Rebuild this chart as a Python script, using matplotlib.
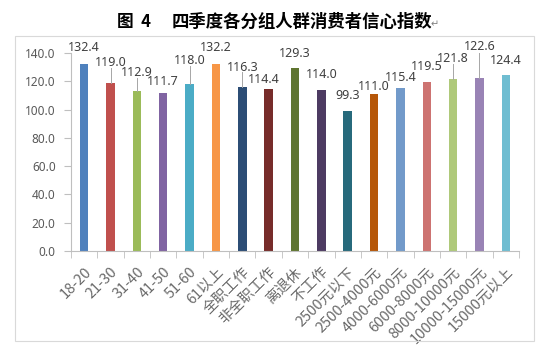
import matplotlib.pyplot as plt
import matplotlib.patches as patches
import numpy as np

plt.rcParams['font.family'] = ['Noto Sans CJK SC', 'DejaVu Sans']

groups = ['18-20', '21-30', '31-40', '41-50', '51-60', '61以上', '全职工作', '非全职工作',
          '离退休', '不工作', '2500元以下', '2500-4000元', '4000-6000元', '6000-8000元',
          '8000-10000元', '10000-15000元', '15000元以上']
index = [132.4, 119.0, 112.9, 111.7, 118.0, 132.2, 116.3, 114.4,
         129.3, 114.0, 99.3, 111.0, 115.4, 119.5, 121.8, 122.6, 124.4]

# where the data labels were dragged to (data units), excel style
label_y = [143.6, 133.0, 125.9, 119.5, 134.4, 143.6, 130.1, 121.6,
           140.0, 124.5, 110.3, 116.0, 123.0, 130.8, 135.8, 144.3, 134.4]
label_dx = [0, 0, 0, 0, 0, 0, 0, -0.2, 0, 0, 0, 0, 0, 0, 0, 0, 0]

colors = ['#4F81BD', '#C0504D', '#9BBB59', '#8064A2', '#4BACC6', '#F79646',
          '#2C4D75', '#772C2A', '#5F7530', '#4D3B62', '#276A7C', '#B65708',
          '#729ACA', '#CD7371', '#AFC97A', '#9983B5', '#6FBDD1']

fig = plt.figure(figsize=(5.41, 3.5), dpi=100)
ax = fig.add_axes([71/541, 1 - 251/350, 448/541, 198/350])

x = np.arange(len(groups))
ax.bar(x, index, width=0.32, color=colors)

for i in range(len(index)):
    tx = x[i] + label_dx[i]
    ax.text(tx, label_y[i], '%.1f' % index[i], ha='center', va='center',
            fontsize=9, color='#404040', family=['Noto Sans', 'DejaVu Sans'])
    if label_y[i] - index[i] > 12:
        ax.plot([x[i], x[i]], [label_y[i] - 3.6, index[i]], color='#A6A6A6', lw=0.7)

ax.set_xlim(-0.5, len(groups) - 0.5)
ax.set_ylim(0, 140)
ax.set_yticks(np.arange(0, 141, 20))
ax.set_yticklabels(['%.1f' % v for v in np.arange(0, 141, 20)],
                   family=['Noto Sans', 'DejaVu Sans'])
ax.set_xticks(x)
ax.set_xticklabels(groups, rotation=45, ha='right', rotation_mode='anchor', fontweight='light')
ax.set_xticks(np.arange(-0.5, len(groups)), minor=True)
ax.tick_params(axis='x', which='major', length=0, labelsize=10.5, labelcolor='#6A6A6A', pad=10)
ax.tick_params(axis='x', which='minor', length=5, color='#BFBFBF')
ax.tick_params(axis='y', length=5, color='#BFBFBF', labelsize=8.5, labelcolor='#595959', pad=6)

for s in ['top', 'right']:
    ax.spines[s].set_visible(False)
for s in ['left', 'bottom']:
    ax.spines[s].set_color('#BFBFBF')
    ax.spines[s].set_linewidth(0.8)

# chart frame
fig.patches.append(patches.Rectangle((15/541, 9/350), 519/541, 305/350, transform=fig.transFigure,
                                     fill=False, edgecolor='#D9D9D9', lw=0.8))

fig.text(134/541, 1 - 22/350, '图  4', ha='center', va='center', fontsize=12, fontweight='bold')
fig.text(302/541, 1 - 22/350, '四季度各分组人群消费者信心指数', ha='center', va='center',
         fontsize=12.5, fontweight='bold')
fig.text(435/541, 1 - 24/350, '↵', ha='center', va='center', fontsize=7, color='#808080',
         family=['DejaVu Sans'])

plt.savefig('out.png', dpi=100)
